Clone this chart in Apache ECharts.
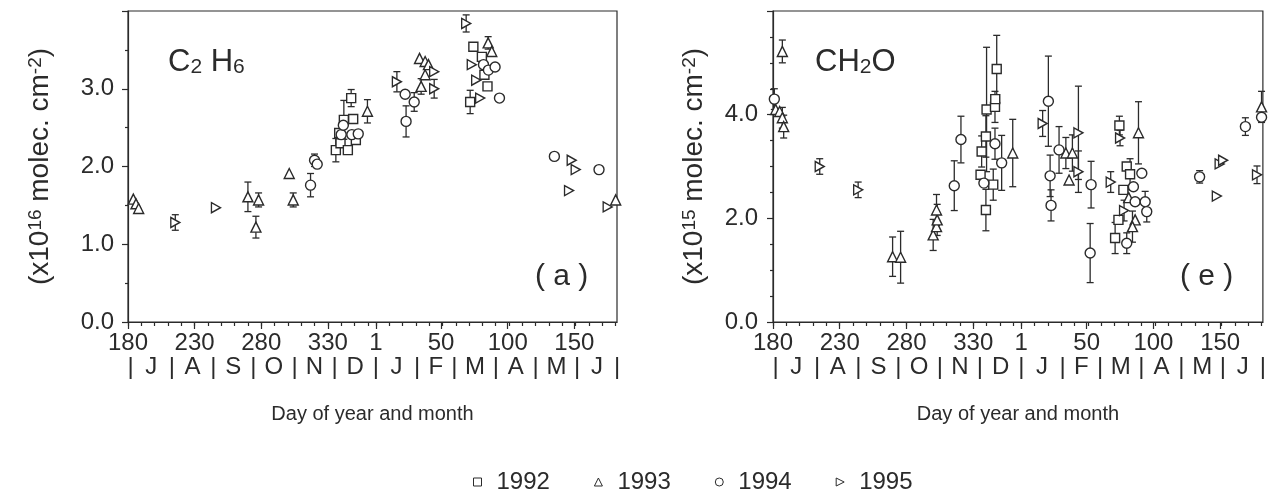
<!DOCTYPE html>
<html>
<head>
<meta charset="utf-8">
<script src="https://cdn.jsdelivr.net/npm/echarts@6/dist/echarts.min.js"></script>
<style>
  html, body { margin: 0; padding: 0; background: #fff; }
  #chart { width: 1269px; height: 499px; }
</style>
</head>
<body>
<div id="chart"></div>
<script>
// day axis runs from day 180 into the next year: day n of the 2nd year = 365 + n
var xMajor = [180, 230, 280, 330, 366, 415, 465, 515];
var xMajorText = ['180', '230', '280', '330', '1', '50', '100', '150'];
var xMinor = [180, 190, 200, 210, 220, 230, 240, 250, 260, 270, 280, 290, 300, 310, 320, 330, 340, 350, 360,
              366, 376, 386, 396, 406, 416, 426, 436, 446, 456, 466, 476, 486, 496, 506, 516, 526, 536, 546];
var monthEdges = [182, 213, 244, 274, 305, 335, 366, 397, 425, 456, 486, 517, 547];
var monthText = ['J', 'A', 'S', 'O', 'N', 'D', 'J', 'F', 'M', 'A', 'M', 'J'];

// [day, value, error]  (error 0 = no bar drawn)
var c2h6_1992 = [[336, 2.21, 0.15], [338.5, 2.43, 0], [339.5, 2.30, 0], [342, 2.60, 0.25], [345, 2.21, 0],
  [347.5, 2.88, 0.11], [349, 2.61, 0], [351, 2.34, 0],
  [436.8, 2.83, 0.15], [439.2, 3.54, 0], [445.6, 3.41, 0], [447.5, 3.18, 0], [449.8, 3.03, 0]];
var c2h6_1993 = [[184, 1.58, 0], [186, 1.52, 0], [188, 1.46, 0], [270, 1.61, 0.19], [276, 1.22, 0.14],
  [278, 1.57, 0.09], [301, 1.91, 0], [304, 1.57, 0.09], [359.7, 2.71, 0.15],
  [398.8, 3.39, 0], [400, 3.03, 0.1], [403, 3.35, 0], [403, 3.18, 0], [405.5, 3.31, 0],
  [450.3, 3.59, 0.08], [453, 3.48, 0], [546, 1.57, 0]];
var c2h6_1994 = [[317, 1.76, 0.15], [320, 2.08, 0.08], [322, 2.03, 0], [340, 2.41, 0], [341.6, 2.53, 0],
  [348, 2.41, 0], [352.8, 2.42, 0], [388, 2.93, 0], [388.7, 2.58, 0.2], [394.8, 2.83, 0.12],
  [446.8, 3.31, 0], [450.5, 3.24, 0], [455.5, 3.28, 0], [458.8, 2.88, 0], [500, 2.13, 0], [533.5, 1.96, 0]];
var c2h6_1995 = [[215.5, 1.28, 0.1], [246, 1.47, 0], [381.8, 3.09, 0.13], [409.8, 3.22, 0], [409.8, 3.0, 0.12],
  [433.8, 3.84, 0.11], [438, 3.31, 0], [441.3, 3.11, 0], [444.3, 2.88, 0], [511, 1.69, 0],
  [513, 2.08, 0], [516, 1.96, 0], [540, 1.48, 0]];

var ch2o_1992 = [[335.5, 2.84, 0], [336.3, 3.29, 0.3], [339.5, 3.58, 0.4], [339.5, 2.16, 0.4], [340, 4.1, 1.2],
  [345, 2.65, 0.3], [346.3, 4.15, 0.3], [346.5, 4.3, 0], [347.6, 4.88, 0.65],
  [439.5, 3.79, 0.18], [445, 3.0, 0], [447.5, 2.85, 0.3], [442.5, 2.55, 0], [438.8, 1.97, 0], [436.3, 1.62, 0.3]];
var ch2o_1993 = [[182, 4.1, 0], [185, 4.06, 0], [187, 3.94, 0.2], [188, 3.77, 0.22], [187, 5.22, 0.22],
  [269.6, 1.26, 0.38], [275.6, 1.25, 0.5], [300, 1.68, 0.3], [302.5, 1.84, 0], [303, 1.97, 0.3], [302.5, 2.16, 0.3],
  [359.6, 3.26, 0.65], [399.4, 3.26, 0.3], [404.3, 3.26, 0.35], [401.8, 2.74, 0],
  [453.8, 3.65, 0.6], [451.3, 1.97, 0], [449.3, 1.84, 0.3], [446.5, 2.4, 0], [546, 4.15, 0.3]];
var ch2o_1994 = [[181, 4.3, 0.2], [315.8, 2.63, 0.48], [320.8, 3.52, 0.45], [338, 2.68, 0], [346.3, 3.44, 0.3],
  [351.3, 3.07, 0.53], [386.3, 4.26, 0.87], [387.6, 2.82, 0.4], [388.3, 2.25, 0.3], [394.3, 3.32, 0.45],
  [418.3, 2.65, 0.45], [417.6, 1.33, 0.57], [456.3, 2.87, 0], [450, 2.61, 0], [451.3, 2.32, 0],
  [458.8, 2.32, 0.2], [460, 2.13, 0.2], [445, 1.52, 0.2], [499.6, 2.8, 0.12], [533.9, 3.77, 0.17], [546, 3.95, 0]];
var ch2o_1995 = [[215, 3.0, 0.15], [243.8, 2.55, 0.15], [382, 3.83, 0.25], [408.8, 3.65, 0.9], [408.8, 2.9, 0.4],
  [433, 2.7, 0.2], [440, 3.55, 0.15], [443, 2.15, 0.2], [514.6, 3.05, 0], [517.2, 3.12, 0],
  [512.5, 2.43, 0], [542.6, 2.84, 0.17]];

var ink = '#2b2b2b';
var font = '"Liberation Sans", Arial, Helvetica, sans-serif';
var years = ['1992', '1993', '1994', '1995'];
var symbols = ['rect', 'triangle', 'circle', 'path://M0,0L10,5L0,10Z'];
var sizes = [9, 10, 10, [9, 10]];

// month row: "|" on the month edges, the letter in the middle of the month
var monthPos = [];
for (var i = 0; i < monthEdges.length; i++) {
  monthPos.push(monthEdges[i]);
  if (i < monthText.length) monthPos.push((monthEdges[i] + monthEdges[i + 1]) / 2);
}
function monthLabel(v) {
  if (monthEdges.indexOf(v) >= 0) return '|';
  for (var i = 0; i < monthText.length; i++) {
    if (v === (monthEdges[i] + monthEdges[i + 1]) / 2) return monthText[i];
  }
  return '';
}

function errBars(params, api) {
  var d = api.value(0), v = api.value(1), e = api.value(2);
  var top = api.coord([d, v + e]);
  var bot = api.coord([d, v - e]);
  var w = 3.5;
  var st = { stroke: ink, lineWidth: 1.3 };
  return {
    type: 'group',
    children: [
      { type: 'line', shape: { x1: top[0], y1: top[1], x2: bot[0], y2: bot[1] }, style: st },
      { type: 'line', shape: { x1: top[0] - w, y1: top[1], x2: top[0] + w, y2: top[1] }, style: st },
      { type: 'line', shape: { x1: bot[0] - w, y1: bot[1], x2: bot[0] + w, y2: bot[1] }, style: st }
    ]
  };
}

var lineSt = { color: ink, width: 1.2 };

function xAxes(g) {
  return [{
    gridIndex: g, type: 'value', min: 180, max: 547,
    axisLine: { show: true, lineStyle: lineSt },
    axisTick: { show: true, customValues: xMajor, length: 7, lineStyle: lineSt },
    axisLabel: {
      customValues: xMajor, margin: 9, fontSize: 24, color: ink, fontFamily: font,
      formatter: function (v) { return xMajorText[xMajor.indexOf(v)]; }
    },
    splitLine: { show: false },
    name: 'Day of year and month', nameLocation: 'middle', nameGap: 82,
    nameTextStyle: { fontSize: 20, color: ink, fontFamily: font }
  }, {
    gridIndex: g, type: 'value', min: 180, max: 547, position: 'bottom',
    axisLine: { show: false },
    axisTick: { show: true, customValues: xMinor, length: 4, lineStyle: lineSt },
    axisLabel: { customValues: monthPos, margin: 33, fontSize: 24, color: ink, fontFamily: font, formatter: monthLabel },
    splitLine: { show: false }
  }];
}

function yAxis(g, max, step, minor, name, gap, margin) {
  return {
    gridIndex: g, type: 'value', min: 0, max: max, interval: step,
    axisLine: { show: true, lineStyle: lineSt },
    axisTick: { show: true, length: 6, lineStyle: lineSt },
    minorTick: { show: true, splitNumber: minor, length: 3, lineStyle: lineSt },
    axisLabel: {
      margin: margin, fontSize: 24, color: ink, fontFamily: font,
      formatter: function (v) { return v >= max ? '' : v.toFixed(1); }
    },
    splitLine: { show: false },
    name: name, nameLocation: 'middle', nameGap: gap,
    nameTextStyle: {
      fontSize: 28, color: ink, fontFamily: font,
      rich: { sup: { fontSize: 19, color: ink, fontFamily: font, verticalAlign: 'top' } }
    }
  };
}

function panelSeries(g, sets) {
  var out = [];
  var bars = [];
  sets.forEach(function (rows, k) {
    out.push({
      type: 'scatter', name: years[k], xAxisIndex: 2 * g, yAxisIndex: g,
      data: rows.map(function (r) { return [r[0], r[1]]; }),
      symbol: symbols[k], symbolSize: sizes[k], clip: false, z: 3,
      itemStyle: { color: '#fff', borderColor: ink, borderWidth: 1.4, opacity: 1 }
    });
    rows.forEach(function (r) { if (r[2] > 0) bars.push(r); });
  });
  out.push({
    type: 'custom', name: 'err', xAxisIndex: 2 * g, yAxisIndex: g, silent: true, z: 2,
    renderItem: errBars, data: bars
  });
  return out;
}

var chart = echarts.init(document.getElementById('chart'), null, { renderer: 'canvas' });

var titleStyle = function (size) {
  return {
    fontSize: size, fontWeight: 'normal', color: ink, fontFamily: font,
    rich: { sub: { fontSize: 21, color: ink, fontFamily: font, verticalAlign: 'bottom' } }
  };
};

chart.setOption({
  animation: false,
  backgroundColor: '#fff',
  grid: [
    { left: 128, top: 11, width: 489, height: 311, show: true, borderColor: ink, borderWidth: 1.2, backgroundColor: 'transparent' },
    { left: 773, top: 11, width: 491, height: 311, show: true, borderColor: ink, borderWidth: 1.2, backgroundColor: 'transparent' }
  ],
  title: [
    { text: 'C{sub|2} H{sub|6}', left: 163, top: 42, textStyle: titleStyle(31) },
    { text: 'CH{sub|2}O', left: 810, top: 42, textStyle: titleStyle(31) },
    { text: '( a )', left: 530, top: 257, textStyle: titleStyle(30) },
    { text: '( e )', left: 1175, top: 257, textStyle: titleStyle(30) }
  ],
  legend: {
    left: 468, top: 465, itemWidth: 8, itemHeight: 8, itemGap: 44, selectedMode: false,
    data: years.map(function (y, k) { return { name: y, icon: symbols[k] }; }),
    itemStyle: { color: '#fff', borderColor: ink, borderWidth: 1 },
    textStyle: { fontSize: 24, color: ink, fontFamily: font, padding: [0, 0, 0, 10] }
  },
  xAxis: xAxes(0).concat(xAxes(1)),
  yAxis: [
    yAxis(0, 4, 1, 2, '(x10{sup|16} molec. cm{sup|-2})', 74, 14),
    yAxis(1, 6, 2, 4, '(x10{sup|15} molec. cm{sup|-2})', 65, 15)
  ],
  series: panelSeries(0, [c2h6_1992, c2h6_1993, c2h6_1994, c2h6_1995])
    .concat(panelSeries(1, [ch2o_1992, ch2o_1993, ch2o_1994, ch2o_1995]))
});
</script>
</body>
</html>
